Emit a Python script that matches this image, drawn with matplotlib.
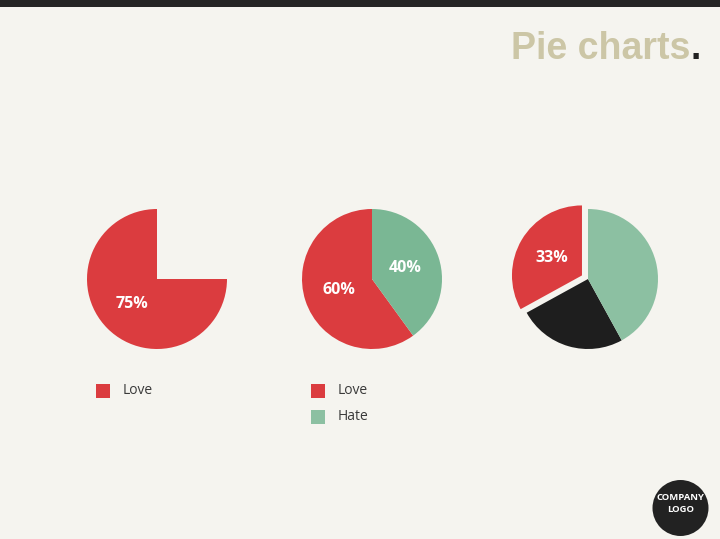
import matplotlib
matplotlib.use("Agg")
import matplotlib.pyplot as plt
from matplotlib.patches import Rectangle, Circle
from matplotlib.font_manager import FontProperties

# ---- data ----
title_text = "Pie charts"
title_dot = "."

pie1_labels = ["Love"]
pie1_values = [0.75]

pie2_labels = ["Love", "Hate"]
pie2_values = [0.60, 0.40]

pie3_labels = ["Love", "Other", "Hate"]
pie3_values = [0.33, 0.25, 0.42]
pie3_explode = [0.1, 0.0, 0.0]

logo_text = "COMPANY\nLOGO"

# ---- style ----
BG = "#F5F4EF"
RED = "#DB3C3F"
GREEN2 = "#7AB794"
GREEN3 = "#8CC0A2"
BLACK = "#1E1E1E"
TITLE_C = "#CCC6A6"
W, H = 720, 539

fig = plt.figure(figsize=(7.2, 5.39), dpi=100, facecolor=BG)
ax = fig.add_axes([0, 0, 1, 1])
ax.set_facecolor(BG)


def Y(y):
    return H - y


R = 70
pct_font = dict(color="white", fontsize=11.5, fontweight="bold", family="Open Sans")
wedge_kw = dict(linewidth=0)

# pie 1
_, _, t1 = ax.pie(pie1_values, colors=[RED], startangle=90, counterclock=True,
                  normalize=False, center=(157, Y(279)), radius=R,
                  autopct=lambda p: f"{p:.0f}%", pctdistance=0.5,
                  wedgeprops=wedge_kw, textprops=pct_font)

# pie 2
_, _, t2 = ax.pie(pie2_values, colors=[RED, GREEN2], startangle=90, counterclock=True,
                  center=(372, Y(279)), radius=R,
                  autopct=lambda p: f"{p:.0f}%", pctdistance=0.5,
                  wedgeprops=wedge_kw, textprops=pct_font)

# pie 3, only the pulled-out slice carries a label (explode given in radii)
_, _, t3 = ax.pie(pie3_values, colors=[RED, BLACK, GREEN3], startangle=90,
                  counterclock=True, explode=[e * R for e in pie3_explode],
                  center=(588, Y(279)), radius=R,
                  autopct=lambda p: f"{p:.0f}%", pctdistance=0.5,
                  wedgeprops=wedge_kw, textprops=pct_font)
for t in t3[1:]:
    t.set_visible(False)

ax.set_xlim(0, W)
ax.set_ylim(0, H)
ax.set_aspect("equal")
ax.axis("off")

# legends
legend_font = dict(fontsize=10, family="Open Sans", color="#3A3A3A", va="center")
sq = 14


def legend(x, y0, labels, colors):
    for i, (lab, col) in enumerate(zip(labels, colors)):
        yc = y0 + i * 26
        ax.add_patch(Rectangle((x, Y(yc) - sq / 2), sq, sq, facecolor=col, lw=0))
        ax.text(x + 27, Y(yc), lab, **legend_font)


legend(96, 391, pie1_labels, [RED])
legend(311, 391, pie2_labels, [RED, GREEN3])

# top bar
ax.add_patch(Rectangle((0, H - 7), W, 7, facecolor="#252525", lw=0))

# title, right-aligned, with a dark full stop
tprops = FontProperties(family="Liberation Sans", weight="bold", size=27)
renderer = fig.canvas.get_renderer()
base = Y(59.3)
dot = ax.text(701, base, title_dot, fontproperties=tprops, color="#222222",
              ha="right", va="baseline")
bb = dot.get_window_extent(renderer=renderer)
ax.text(bb.x0 - 0.3, base, title_text, fontproperties=tprops, color=TITLE_C,
        ha="right", va="baseline")

# company logo
ax.add_patch(Circle((680.5, Y(508)), 28, facecolor="#222222", lw=0))
ax.text(680.5, Y(503.5), logo_text, color="white", fontsize=6.8, fontweight="bold",
        family="Open Sans", ha="center", va="center", multialignment="center",
        linespacing=1.3)

fig.savefig("out.png", dpi=100, facecolor=BG)
